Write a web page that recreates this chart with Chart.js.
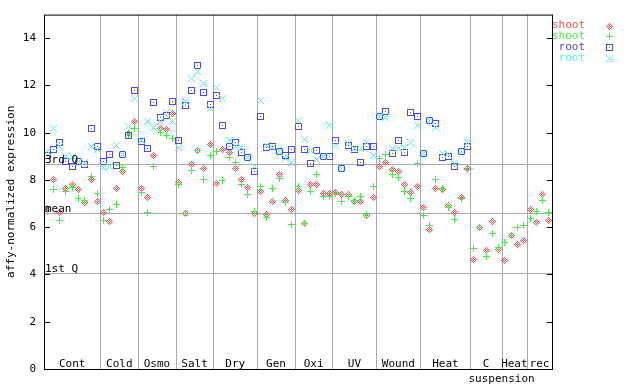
<!DOCTYPE html>
<html>
<head>
<meta charset="utf-8">
<title>affy-normalized expression</title>
<script src="https://cdn.jsdelivr.net/npm/chart.js@4/dist/chart.umd.min.js"></script>
<style>
    html, body { margin: 0; padding: 0; background: #ffffff; }
    canvas { display: block; }
</style>
</head>
<body>
<canvas id="exprChart" width="640" height="384"></canvas>
<script>
// Sample groups along the x axis (one slot per sample)
const groupLabels = [['Cont'], ['Cold'], ['Osmo'], ['Salt'], ['Dry'], ['Gen'], ['Oxi'], ['UV'], ['Wound'], ['Heat'], ['C', 'suspension'], ['Heat'], ['rec']];
const groupSizes = [9, 6, 6, 6, 7, 6, 6, 7, 7, 8, 5, 4, 4];

// Expression values read per sample slot
const shootA = [6.78, 8.01, 6.61, 7.62, 7.83, 7.58, 7.03, 8.00, 7.11,
    6.61, 6.23, 7.66, 8.38, 9.97, 10.46,
    7.66, 7.25, 9.05, 10.20, 10.12, 10.82,
    7.91, 6.59, 8.67, 9.23, 8.48, 9.52,
    7.87, 9.28, 9.18, 8.50, 8.04, 7.70, 6.58,
    7.53, 6.52, 7.07, 8.25, 7.15, 6.73,
    7.56, 6.16, 7.83, 7.79, 7.41, 7.41,
    7.49, 7.37, 7.37, 7.07, 7.07, 6.48, 7.24,
    8.59, 8.76, 8.46, 8.38, 7.83, 7.49, 7.74,
    6.82, 5.89, 7.62, 7.58, 6.90, 6.61, 7.24, 8.50,
    4.62, 5.97, 5.00, 6.23, 5.05,
    4.58, 5.64, 5.26, 5.43,
    6.73, 6.18, 7.37, 6.27];
const shootB = [6.66, 7.58, 6.27, 7.53, 7.70, 7.21, 7.14, 8.14, 7.41,
    6.27, 6.73, 6.96, 8.53, 9.93, 10.19,
    7.45, 6.61, 8.56, 9.99, 9.90, 9.74,
    7.83, 6.59, 8.42, 9.23, 8.04, 9.05,
    9.22, 7.96, 8.97, 8.76, 7.79, 7.37, 6.66,
    7.74, 6.42, 7.62, 8.08, 7.03, 6.10,
    7.74, 6.16, 7.53, 8.25, 7.28, 7.32,
    7.41, 7.07, 7.32, 7.15, 7.32, 6.52, 7.74,
    8.93, 9.09, 8.25, 8.12, 7.53, 7.20, 8.71,
    6.48, 6.06, 8.00, 7.66, 6.82, 6.31, 7.20, 8.46,
    5.09, 5.97, 4.75, 5.72, 5.13,
    5.34, 5.64, 5.97, 6.06,
    6.35, 6.65, 7.15, 6.61];
const rootA = [9.02, 9.28, 9.60, 8.77, 8.59, 8.80, 8.67, 10.19, 9.40,
    8.80, 9.09, 8.63, 9.09, 9.90, 11.79,
    9.61, 9.35, 11.29, 10.65, 10.74, 11.33,
    9.68, 11.16, 11.79, 12.85, 11.71, 11.20,
    11.58, 10.32, 9.43, 9.60, 9.18, 8.97, 8.34,
    10.70, 9.39, 9.43, 9.22, 9.05, 9.30,
    10.27, 9.30, 8.71, 9.26, 9.01, 9.01,
    9.68, 8.50, 9.47, 9.30, 8.76, 9.43, 9.43,
    10.67, 10.91, 9.14, 9.68, 9.18, 10.86, 10.70,
    9.12, 10.53, 10.40, 8.97, 9.01, 8.55, 9.22, 9.43];
const rootB = [9.21, 10.19, 9.40, 8.98, 9.01, 8.78, 8.76, 9.43, 9.28,
    8.52, 8.55, 9.47, 9.09, 10.26, 11.46,
    9.66, 10.48, 10.23, 10.47, 10.84, 10.48,
    9.39, 11.31, 12.30, 12.58, 12.09, 11.03,
    11.92, 11.46, 9.68, 9.43, 9.39, 8.97, 8.56,
    11.37, 9.47, 9.39, 9.22, 8.93, 8.76,
    10.50, 9.73, 9.26, 8.88, 9.01, 10.32,
    9.47, 8.50, 9.56, 9.35, 9.35, 9.60, 9.05,
    10.68, 10.64, 9.35, 9.35, 9.39, 9.60, 10.32,
    9.12, 10.53, 10.23, 9.14, 9.09, 8.71, 9.22, 9.60];

// Reference lines across the plot
const quartileValues = [8.67, 6.61, 4.08];
const quartileLabels = ['3rd Q', 'mean', '1st Q'];
const yTicks = [0, 2, 4, 6, 8, 10, 12, 14];

const FONT = '11px "DejaVu Sans Mono", monospace';

// small pixel markers, like the original bitmap plot
function makeMarker(color, test) {
    const c = document.createElement('canvas');
    c.width = 7;
    c.height = 7;
    const g = c.getContext('2d');
    g.fillStyle = color;
    for (let dy = -3; dy <= 3; dy++) {
        for (let dx = -3; dx <= 3; dx++) {
            if (test(dx, dy)) g.fillRect(dx + 3, dy + 3, 1, 1);
        }
    }
    return c;
}

const series = [
    { label: 'shoot', color: '#ff4f4f', values: shootA, order: 3,
      marker: makeMarker('#ff4f4f', (dx, dy) => Math.abs(dx) + Math.abs(dy) <= 3 && Math.abs(dx + dy) % 2 === 1) },
    { label: 'shoot', color: '#44ee44', values: shootB, order: 2,
      marker: makeMarker('#44ee44', (dx, dy) => dx === 0 || dy === 0) },
    { label: 'root', color: '#4a4af0', values: rootA, order: 1,
      marker: makeMarker('#4a4af0', (dx, dy) => Math.max(Math.abs(dx), Math.abs(dy)) === 3 || (dx === 0 && dy === 0)) },
    { label: 'root', color: '#55f0f0', values: rootB, order: 0,
      marker: makeMarker('#55f0f0', (dx, dy) => Math.abs(dx) === Math.abs(dy)) }
];

const totalSlots = groupSizes.reduce((a, b) => a + b, 0);

const plotDecor = {
    id: 'plotDecor',
    beforeDatasetsDraw(chart) {
        const { ctx, chartArea: a, scales: { x, y } } = chart;
        ctx.save();
        ctx.strokeStyle = '#aaaaaa';
        ctx.lineWidth = 1;
        ctx.beginPath();
        // group separators
        let pos = 0;
        groupSizes.forEach((n, i) => {
            pos += n;
            if (i === groupSizes.length - 1) return;
            const px = Math.round(x.getPixelForValue(pos)) + 0.5;
            ctx.moveTo(px, a.top);
            ctx.lineTo(px, a.bottom);
        });
        // quartile / mean lines
        quartileValues.forEach(v => {
            const py = Math.round(y.getPixelForValue(v)) + 0.5;
            ctx.moveTo(a.left, py);
            ctx.lineTo(a.right, py);
        });
        ctx.stroke();
        ctx.restore();
        ctx.imageSmoothingEnabled = false;
    },
    afterDatasetsDraw(chart) {
        const { ctx, chartArea: a, scales: { x, y } } = chart;
        ctx.save();
        ctx.font = FONT;
        ctx.fillStyle = '#000000';

        // quartile labels
        ctx.textAlign = 'left';
        ctx.textBaseline = 'alphabetic';
        quartileValues.forEach((v, i) => {
            const py = Math.round(y.getPixelForValue(v));
            ctx.fillText(quartileLabels[i], a.left + 1, py - 1);
        });

        // frame
        ctx.strokeStyle = '#000000';
        ctx.lineWidth = 1;
        ctx.strokeRect(a.left + 0.5, a.top + 0.5, a.right - a.left, a.bottom - a.top);

        // inward ticks on both sides
        ctx.beginPath();
        yTicks.forEach(v => {
            const py = Math.round(y.getPixelForValue(v)) + 0.5;
            ctx.moveTo(a.left, py);
            ctx.lineTo(a.left + 6, py);
            ctx.moveTo(a.right - 5, py);
            ctx.lineTo(a.right + 1, py);
        });
        ctx.stroke();

        // group labels; a second line hangs below the axis from the group start
        let start = 0;
        groupSizes.forEach((n, i) => {
            const cx = x.getPixelForValue(start + n / 2);
            const lines = groupLabels[i];
            ctx.textAlign = 'center';
            ctx.fillText(lines[0], cx, a.bottom - 2);
            if (lines.length > 1) {
                ctx.textAlign = 'left';
                ctx.fillText(lines[1], x.getPixelForValue(start) - 2, a.bottom + 13);
            }
            start += n;
        });

        // legend, outside on the right
        ctx.textAlign = 'right';
        ctx.textBaseline = 'middle';
        series.forEach((s, i) => {
            const ly = a.top + 11 + i * 10.8;
            ctx.fillStyle = s.color;
            ctx.fillText(s.label, a.right + 33, ly);
            ctx.drawImage(s.marker, Math.round(a.right + 57 - 3), Math.round(ly - 3));
        });
        ctx.restore();
    }
};

document.addEventListener('DOMContentLoaded', function() {
    const ctx = document.getElementById('exprChart');

    const datasets = series.map(s => ({
        label: s.label,
        data: s.values.map((v, i) => ({ x: i + 0.5, y: v })).filter(p => p.y !== null),
        pointStyle: s.marker,
        pointRadius: 3,
        borderColor: s.color,
        backgroundColor: s.color,
        showLine: false,
        order: s.order
    }));

    new Chart(ctx, {
        type: 'scatter',
        data: { datasets: datasets },
        options: {
            responsive: false,
            animation: false,
            devicePixelRatio: 1,
            events: [],
            layout: { padding: { top: 13, right: 88, bottom: 15, left: 0 } },
            plugins: {
                legend: { display: false },
                tooltip: { enabled: false }
            },
            scales: {
                x: {
                    type: 'linear',
                    min: 0,
                    max: totalSlots,
                    display: false
                },
                y: {
                    type: 'linear',
                    min: 0,
                    max: 15,
                    afterFit: function(scale) { scale.width = 44; },
                    afterBuildTicks: function(scale) {
                        scale.ticks = yTicks.map(v => ({ value: v }));
                    },
                    ticks: {
                        padding: 8,
                        color: '#000000',
                        font: { family: '"DejaVu Sans Mono", monospace', size: 11 }
                    },
                    grid: { display: false, drawTicks: false },
                    border: { display: false },
                    title: {
                        display: true,
                        text: 'affy-normalized expression',
                        color: '#000000',
                        padding: { top: 5, bottom: 0 },
                        font: { family: '"DejaVu Sans Mono", monospace', size: 11 }
                    }
                }
            }
        },
        plugins: [plotDecor]
    });
});
</script>
</body>
</html>
